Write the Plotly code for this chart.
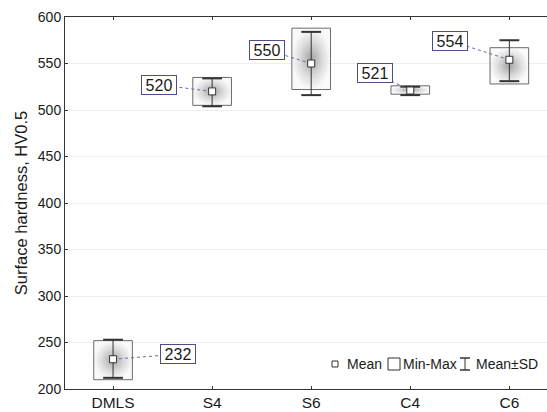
import plotly.graph_objects as go

# ---- data ----
categories = ["DMLS", "S4", "S6", "C4", "C6"]
mean_vals = [232, 520, 550, 521, 554]
min_vals = [210, 505, 522, 517, 528]
max_vals = [252, 535, 588, 526, 567]
sd_low = [212, 504, 516, 516, 531]
sd_high = [253, 534, 584, 525, 575]
y_ticks = [200, 250, 300, 350, 400, 450, 500, 550, 600]
legend_labels = ["Mean", "Min-Max", "Mean±SD"]

# ---- layout helpers (label offsets in axis units) ----
label_dx = [0.657, -0.535, -0.444, -0.354, -0.596]
label_dy = [5.5, 7, 14.6, 19, 20.3]
box_hw = 0.195
cap_hw = 0.1

W, H = 547, 412
ML, MR, MT, MB = 65, 0, 17, 23

fig = go.Figure()

for i, cat in enumerate(categories):
    x0, x1 = i - box_hw, i + box_hw
    fig.add_trace(go.Scatter(
        x=[x0, x1, x1, x0, x0],
        y=[min_vals[i], min_vals[i], max_vals[i], max_vals[i], min_vals[i]],
        mode="lines", fill="toself",
        fillgradient=dict(type="radial",
                          colorscale=[[0, "#a4a4a4"], [0.6, "#dddddd"], [1, "#fafafa"]]),
        line=dict(color="#6b6b6b", width=1),
        showlegend=False, hoverinfo="skip"))
    # SD whisker stem
    fig.add_trace(go.Scatter(
        x=[i, i], y=[sd_low[i], sd_high[i]],
        mode="lines", line=dict(color="#333333", width=1),
        showlegend=False, hoverinfo="skip"))
    # SD caps
    fig.add_trace(go.Scatter(
        x=[i - cap_hw, i + cap_hw, None, i - cap_hw, i + cap_hw],
        y=[sd_low[i], sd_low[i], None, sd_high[i], sd_high[i]],
        mode="lines", line=dict(color="#333333", width=2),
        showlegend=False, hoverinfo="skip"))
    # dotted leader
    lx = i + label_dx[i]
    ly = mean_vals[i] + label_dy[i]
    fig.add_trace(go.Scatter(
        x=[i, lx], y=[mean_vals[i], ly], mode="lines",
        line=dict(color="#6a6aa0", width=1, dash="dot"),
        showlegend=False, hoverinfo="skip"))
    fig.add_annotation(x=lx, y=ly, text=str(mean_vals[i]), showarrow=False,
                       font=dict(size=16, color="#1a1a1a", family="Liberation Sans, Arial"),
                       width=32, height=16, align="center", valign="middle",
                       bgcolor="white", bordercolor="#4d4d8c", borderwidth=1, borderpad=1)

# mean markers
fig.add_trace(go.Scatter(
    x=list(range(len(categories))), y=mean_vals, mode="markers",
    marker=dict(symbol="square", size=7, color="white", line=dict(color="#333333", width=1)),
    name="Mean", showlegend=False))

# ---- custom legend (paper coords) ----
def px2paper(px, py):
    return (px - ML) / (W - ML - MR), (H - MB - py) / (H - MT - MB)

ly_px = 364
leg_font = dict(size=14, color="#1a1a1a", family="Liberation Sans, Arial")
# Mean symbol
ax0, ay0 = px2paper(332, ly_px - 3)
ax1, ay1 = px2paper(338, ly_px + 3)
fig.add_shape(type="rect", xref="paper", yref="paper", x0=ax0, x1=ax1, y0=ay1, y1=ay0,
              line=dict(color="#333333", width=1), fillcolor="white")
tx, ty = px2paper(345, ly_px)
fig.add_annotation(xref="paper", yref="paper", x=tx, y=ty, xanchor="left", yanchor="middle",
                   text=legend_labels[0], showarrow=False, font=leg_font)
# Min-Max symbol
ax0, ay0 = px2paper(388, ly_px - 6)
ax1, ay1 = px2paper(400, ly_px + 6)
fig.add_shape(type="rect", xref="paper", yref="paper", x0=ax0, x1=ax1, y0=ay1, y1=ay0,
              line=dict(color="#333333", width=1), fillcolor="white")
tx, ty = px2paper(401, ly_px)
fig.add_annotation(xref="paper", yref="paper", x=tx, y=ty, xanchor="left", yanchor="middle",
                   text=legend_labels[1], showarrow=False, font=leg_font)
# Mean±SD symbol (I-beam)
cx, cyt = px2paper(465, ly_px - 6)
_, cyb = px2paper(465, ly_px + 6)
lx0, _ = px2paper(460, ly_px)
lx1, _ = px2paper(470, ly_px)
fig.add_shape(type="line", xref="paper", yref="paper", x0=cx, x1=cx, y0=cyb, y1=cyt,
              line=dict(color="#333333", width=1))
fig.add_shape(type="line", xref="paper", yref="paper", x0=lx0, x1=lx1, y0=cyb, y1=cyb,
              line=dict(color="#333333", width=1.5))
fig.add_shape(type="line", xref="paper", yref="paper", x0=lx0, x1=lx1, y0=cyt, y1=cyt,
              line=dict(color="#333333", width=1.5))
tx, ty = px2paper(474, ly_px)
fig.add_annotation(xref="paper", yref="paper", x=tx, y=ty, xanchor="left", yanchor="middle",
                   text=legend_labels[2], showarrow=False, font=leg_font)

fig.update_layout(
    width=W, height=H,
    margin=dict(l=ML, r=MR, t=MT, b=MB, pad=0),
    plot_bgcolor="white", paper_bgcolor="white",
    font=dict(family="Liberation Sans, Arial", size=14, color="#1a1a1a"),
    showlegend=False,
)
fig.update_xaxes(
    range=[-0.485, 4.38], tickmode="array", tickvals=list(range(len(categories))),
    ticktext=categories, showline=True, linecolor="#333333", linewidth=1,
    mirror="ticks", ticks="inside", ticklen=3, tickcolor="#333333",
    showgrid=False, zeroline=False, tickfont=dict(size=15.5),
    ticklabelstandoff=-1)
fig.update_yaxes(
    range=[200, 600], tickmode="array", tickvals=y_ticks,
    showline=True, linecolor="#333333", linewidth=1,
    ticks="inside", ticklen=3, tickcolor="#333333",
    showgrid=True, gridcolor="#eeeeee", gridwidth=1, zeroline=False,
    title=dict(text="Surface hardness, HV0.5", font=dict(size=16.5), standoff=6),
    tickfont=dict(size=14))

fig.write_html("out.html", config={"displayModeBar": False},
               post_script="document.body.style.margin='0';document.body.style.overflow='hidden';")
